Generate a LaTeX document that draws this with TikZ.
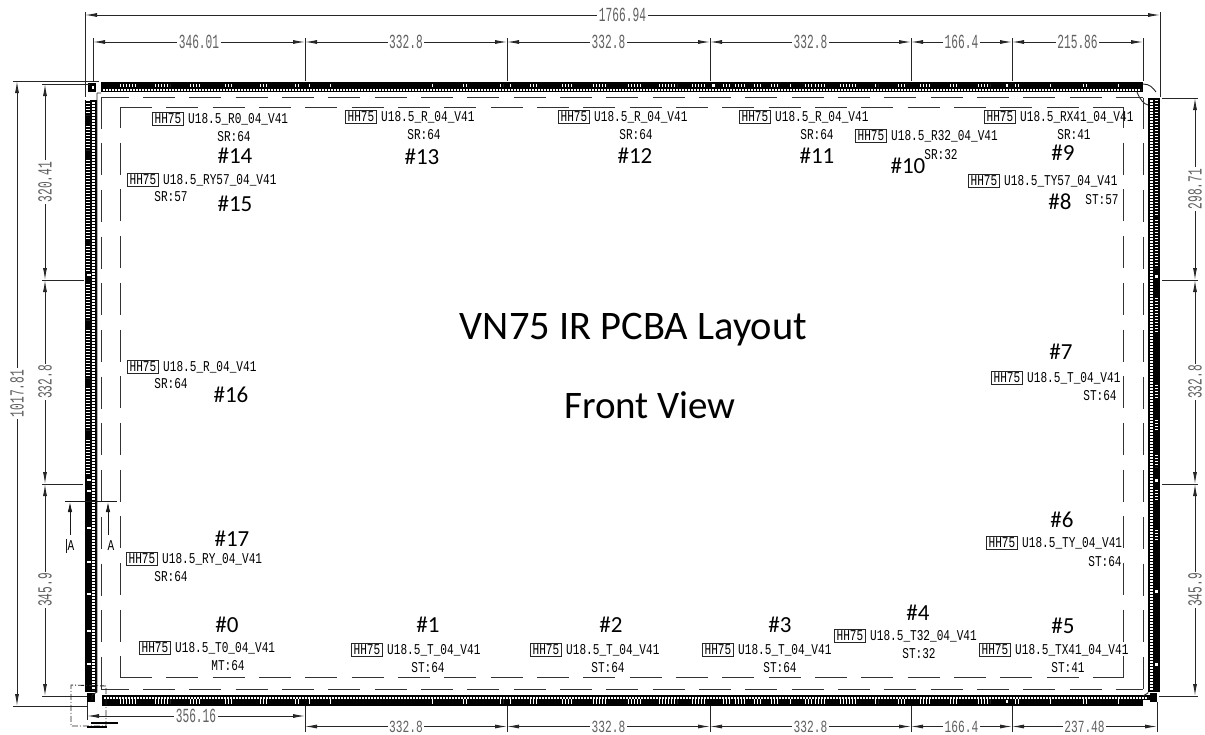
\documentclass[tikz,border=0pt]{standalone}
\usepackage{fontspec}
\setmainfont{Carlito}
\newfontfamily\cadfont{Liberation Mono}
\usetikzlibrary{arrows.meta,calc}
\definecolor{dimtext}{gray}{0.38}
\newcommand{\cadtext}[1]{\scalebox{0.74}[1]{\cadfont\fontsize{15}{16}\selectfont #1}}
\newcommand{\dimtext}[1]{\scalebox{0.56}[1]{\cadfont\fontsize{20}{21}\selectfont\textcolor{dimtext}{#1}}}
\newcommand{\lowdimtext}[1]{\scalebox{0.66}[1]{\cadfont\fontsize{17}{18}\selectfont\textcolor{dimtext}{#1}}}
\tikzset{
  dimline/.style={line width=0.9pt,black!85,{Latex[length=12pt,width=4pt]}-{Latex[length=12pt,width=4pt]}},
  extline/.style={line width=0.9pt,black!85},
  dimlabel/.style={fill=white,inner xsep=1.5pt,inner ysep=0pt},
  hhbox/.style={draw=black!85,line width=0.9pt,inner sep=0pt,minimum width=31pt,minimum height=13pt},
  chiplabel/.style={inner sep=0pt,anchor=west},
  srlabel/.style={inner sep=0pt},
  numlabel/.style={inner sep=0pt,font=\fontsize{23}{25}\selectfont},
  titlelabel/.style={inner sep=0pt,font=\fontsize{40.5}{43}\selectfont},
  sublabel/.style={inner sep=0pt,font=\fontsize{39}{41}\selectfont},
  hdash/.style={line width=1pt,black!80,dash pattern=on 32pt off 14.33pt},
  vdash/.style={line width=1pt,black!80,dash pattern=on 32pt off 14.7pt},
  barfill/.style={fill=black,draw=none},
  sectionline/.style={line width=0.9pt,black!90},
}
\newcommand{\hdim}[5]{%
  \coordinate (#5a) at (#1,#3); \coordinate (#5b) at (#2,#3);
  \draw[dimline] (#5a) -- (#5b) node[midway,dimlabel] (#5t) {\dimtext{#4}};}
\newcommand{\lowdim}[5]{%
  \coordinate (#5a) at (#1,#3); \coordinate (#5b) at (#2,#3);
  \draw[dimline] (#5a) -- (#5b) node[midway,dimlabel] (#5t) {\lowdimtext{#4}};}
\newcommand{\vdim}[5]{%
  \coordinate (#5a) at (#1,#2); \coordinate (#5b) at (#1,#3);
  \draw[dimline] (#5a) -- (#5b) node[midway,dimlabel,rotate=90] (#5t) {\dimtext{#4}};}
\newcommand{\boardlabel}[9]{%
  \node[hhbox,anchor=west] (#1box) at (#2,#3) {\cadtext{HH75}};
  \node[chiplabel] (#1chip) at ($(#2,#3)+(36,0)$) {\cadtext{#4}};
  \node[srlabel] (#1sr) at (#5,#6) {\cadtext{#7}};
  \node[numlabel] (#1num) at #8 {#9};}
\begin{document}
\begin{tikzpicture}[x=1pt,y=-1pt]
\useasboundingbox (0,0) rectangle (1205,734);
% ---- bars
\fill[barfill] (101,82) rectangle (1143,92);
\fill[barfill] (102,695) rectangle (1150,706);
\fill[barfill] (85,100) rectangle (96.5,692);
\fill[barfill] (1148,98) rectangle (1160,692);
\draw[white,line width=2pt,dash pattern=on 1.6pt off 1.4pt] (103,90) -- (1141,90);
\draw[white,line width=2pt,dash pattern=on 1.6pt off 1.4pt] (104,697.5) -- (1148,697.5);
\draw[white,line width=3pt,dash pattern=on 1.6pt off 1.4pt] (93.5,102) -- (93.5,690);
\draw[white,line width=3pt,dash pattern=on 1.6pt off 1.4pt] (1151,100) -- (1151,690);
\foreach \ya/\yb in {100/115,126/150,160/240,246/272,284/320,330/378,388/430,440/475}{
  \draw[white,line width=4pt,dash pattern=on 1.3pt off 1.7pt] (88,\ya) -- (88,\yb);}
\foreach \y in {274,479,490,527,561,593,630,663}{
  \fill[white] (86.5,\y) rectangle (90.5,\y+2);}
\foreach \ya/\yb in {100/215,220/268,298/332,385/398,420/430,455/467,490/500,530/540}{
  \draw[white,line width=3pt,dash pattern=on 1.3pt off 1.7pt] (1156,\ya) -- (1156,\yb);}
\foreach \y in {275,479,590,663}{
  \fill[white] (1154.5,\y) rectangle (1157.5,\y+3);}
\foreach \xa/\xb in {120/137,155/170,190/200,225/232,260/268,295/299,309/311,330/331,432/433,463/467,500/503,510/512,530/537,562/572,
   593/607,628/642,659/677,692/705,723/730,735/745,754/762,771/780,790/793,805/813,815/827,840/858,875/878,898/905,920/930,950/958,978/990,1015/1020,1050/1053,1083/1087,1118/1119}{
  \draw[white,line width=3.5pt,dash pattern=on 1pt off 2pt] (\xa,85.5) -- (\xb,85.5);
  \draw[white,line width=4.5pt,dash pattern=on 1pt off 2pt] (\xa,701.5) -- (\xb,701.5);
}
\fill[white] (712,84) rectangle (715,87);
\fill[white] (1006,84) rectangle (1008,87);
\fill[white] (1006,700) rectangle (1008,703);
% ---- corners
\fill[black] (88,83) rectangle (96,92);
\fill[white] (92,86) rectangle (94,89);
\fill[black] (87,693) rectangle (95,702);
\fill[black] (1150,693) rectangle (1157,702);
\fill[white] (1143,700) rectangle (1150,706);
\draw[extline] (97,93) -- (97,692) -- (92,695) -- (92,700) (97,93) -- (101,93);
\draw[extline] (1143,696) -- (1148,693) -- (1148,692);
\draw[extline] (1143,84) .. controls (1150,84) and (1153,88) .. (1156,92);
\draw[extline] (1137,92) .. controls (1140,100) and (1144,104) .. (1148,105);
% ---- dashed frames
\draw[hdash,dash phase=4.3pt] (101,97.5) -- (1143,97.5);
\draw[hdash,dash phase=4.3pt] (101,689) -- (1143,689);
\draw[vdash,dash phase=1pt] (101,97.5) -- (101,689);
\draw[vdash,dash phase=1pt] (1143,97.5) -- (1143,689);
\draw[hdash] (120,107) -- (1123.5,107);
\draw[hdash] (120,677) -- (1123.5,677);
\draw[vdash,dash phase=11pt] (120,107) -- (120,677);
\draw[vdash,dash phase=11pt] (1123.5,107) -- (1123.5,677);
% ---- overall dimensions
\hdim{85}{1160}{15}{1766.94}{dA}
\coordinate (e1) at (85,12); \coordinate (e1b) at (85,97);
\coordinate (e2) at (1160,12); \coordinate (e2b) at (1160,97);
\draw[extline] (e1)--(e1b) (e2)--(e2b);
% ---- top row
\hdim{93}{305}{42}{346.01}{dB}
\hdim{305}{507}{42}{332.8}{dC}
\hdim{507}{710}{42}{332.8}{dD}
\hdim{710}{911}{42}{332.8}{dE}
\hdim{911}{1012}{42}{166.4}{dF}
\hdim{1012}{1143}{42}{215.86}{dG}
\foreach \x in {93,305,507,710,911,1012,1143}{\draw[extline] (\x,38)--(\x,81);}
% ---- bottom rows
\hdim{87}{305}{716}{356.16}{dH}
\lowdim{305}{507}{726.5}{332.8}{dI}
\lowdim{507}{710}{726.5}{332.8}{dJ}
\lowdim{710}{911}{726.5}{332.8}{dK}
\lowdim{911}{1012}{726.5}{166.4}{dL}
\lowdim{1012}{1157}{726.5}{237.48}{dM}
\foreach \x in {305,507,710,911,1012}{\draw[extline] (\x,706)--(\x,732);}
\draw[extline] (1157,702)--(1157,732);
\draw[extline] (87,702)--(87,720);
% ---- left
\vdim{17}{81}{706}{1017.81}{dN}
\vdim{45}{84}{280}{320.41}{dO}
\vdim{45}{280}{484}{332.8}{dP}
\vdim{45}{484}{696}{345.9}{dQ}
\draw[extline] (13,81)--(99,81) (13,706)--(88,706) (42,84)--(90,84) (42,280)--(84,280) (42,484)--(83,484) (42,696)--(87,696);
% ---- right
\vdim{1195}{98}{280}{298.71}{dR}
\vdim{1195}{280}{484}{332.8}{dS}
\vdim{1195}{484}{696}{345.9}{dT}
\draw[extline] (1162,98)--(1198,98) (1162,280)--(1198,280) (1162,484)--(1198,484) (1159,696)--(1198,696);
% ---- section marks
\coordinate (sa) at (65,501); \coordinate (sb) at (117,501);
\draw[sectionline] (sa)--(sb);
\draw[sectionline,{Latex[length=10pt,width=4.5pt]}-] (70,502) -- (70,535);
\draw[sectionline,{Latex[length=10pt,width=4.5pt]}-] (108,502) -- (108,535);
\node[srlabel] (secA) at (71,546) {\cadtext{A}};
\node[srlabel] (secB) at (111,546) {\cadtext{A}};
\draw[sectionline] (66,539)--(66,553);
\draw[line width=0.9pt,black!85,dash pattern=on 6pt off 2pt on 1pt off 2pt] (106,686)--(71,685)--(71,726)--(106,726)--cycle;
\draw[line width=2.2pt,black] (91,723)--(118,723);
\draw[line width=1.2pt,black] (87,727)--(107,727);
% ---- board labels
\boardlabel{a14}{152}{119}{U18.5\_R0\_04\_V41}{234}{137}{SR:64}{(235,156)}{\#14}
\boardlabel{a15}{127}{180}{U18.5\_RY57\_04\_V41}{171}{197}{SR:57}{(235,204)}{\#15}
\boardlabel{a13}{345}{117}{U18.5\_R\_04\_V41}{424}{135}{SR:64}{(422,157)}{\#13}
\boardlabel{a12}{558}{117}{U18.5\_R\_04\_V41}{636}{135}{SR:64}{(635,156)}{\#12}
\boardlabel{a11}{739}{117}{U18.5\_R\_04\_V41}{817}{135}{SR:64}{(817,156)}{\#11}
\boardlabel{a10}{855}{136}{U18.5\_R32\_04\_V41}{941}{155}{SR:32}{(908,166)}{\#10}
\boardlabel{a9}{984}{117}{U18.5\_RX41\_04\_V41}{1074}{135}{SR:41}{(1063,153)}{\#9}
\boardlabel{a8}{968}{181}{U18.5\_TY57\_04\_V41}{1102}{200}{ST:57}{(1060,202)}{\#8}
\boardlabel{a7}{991}{378}{U18.5\_T\_04\_V41}{1100}{396}{ST:64}{(1061,352)}{\#7}
\boardlabel{a6}{986}{543}{U18.5\_TY\_04\_V41}{1105}{562}{ST:64}{(1062,520)}{\#6}
\boardlabel{a5}{979}{650}{U18.5\_TX41\_04\_V41}{1068}{668}{ST:41}{(1063,626)}{\#5}
\boardlabel{a4}{834}{636}{U18.5\_T32\_04\_V41}{919}{654}{ST:32}{(918,613)}{\#4}
\boardlabel{a3}{702}{650}{U18.5\_T\_04\_V41}{780}{668}{ST:64}{(780,625)}{\#3}
\boardlabel{a2}{530}{650}{U18.5\_T\_04\_V41}{608}{668}{ST:64}{(611,625)}{\#2}
\boardlabel{a1}{351}{650}{U18.5\_T\_04\_V41}{428}{668}{ST:64}{(428,625)}{\#1}
\boardlabel{a0}{139}{648}{U18.5\_T0\_04\_V41}{228}{666}{MT:64}{(227,625)}{\#0}
\boardlabel{a17}{126}{559}{U18.5\_RY\_04\_V41}{171}{577}{SR:64}{(232,539)}{\#17}
\boardlabel{a16}{127}{367}{U18.5\_R\_04\_V41}{171}{384}{SR:64}{(231,395)}{\#16}
% ---- title
\node[titlelabel] (title) at (633.5,330) {VN75 IR PCBA Layout};
\node[sublabel] (sub) at (650,405) {Front View};
\end{tikzpicture}
\end{document}
